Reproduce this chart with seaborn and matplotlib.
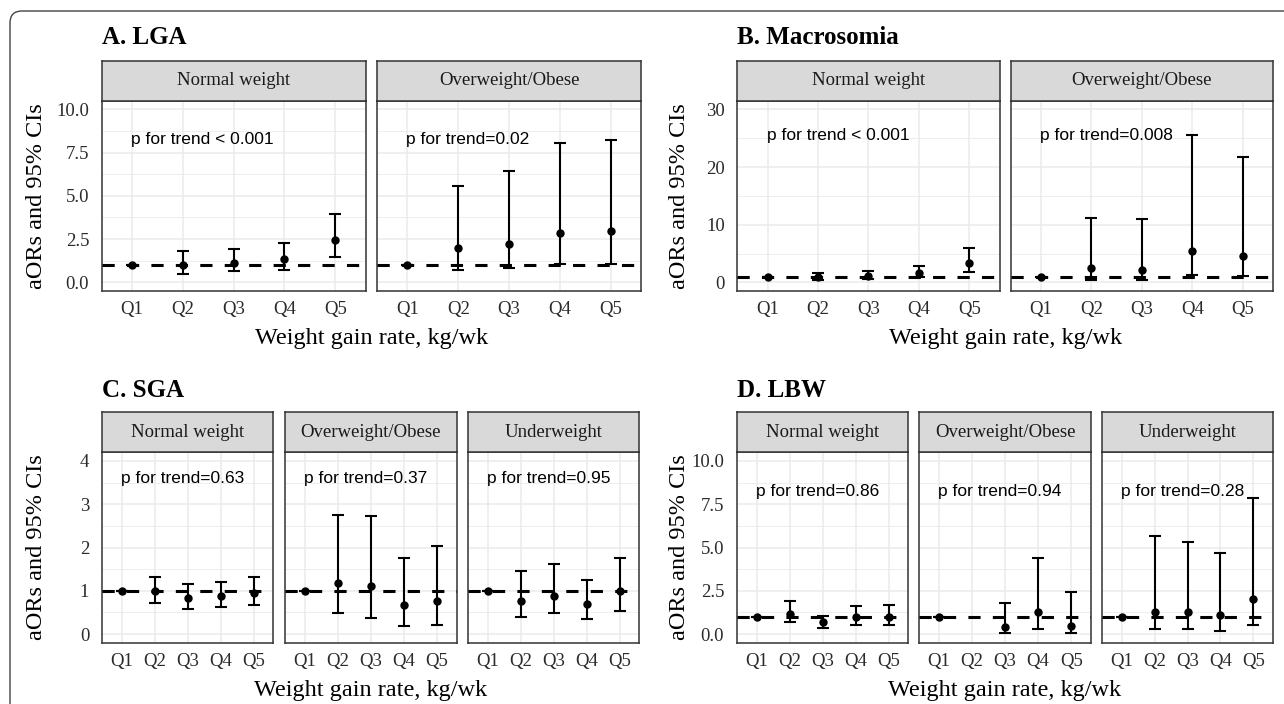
import matplotlib
matplotlib.use("Agg")
import matplotlib.pyplot as plt
from matplotlib.patches import FancyBboxPatch
import numpy as np
import pandas as pd
import seaborn as sns

QUINTILES = ["Q1", "Q2", "Q3", "Q4", "Q5"]

# A. LGA
LGA_NORMAL_OR = [1.00, 1.02, 1.13, 1.33, 2.44]
LGA_NORMAL_LO = [1.00, 0.50, 0.63, 0.72, 1.45]
LGA_NORMAL_HI = [1.00, 1.82, 1.90, 2.28, 3.97]
LGA_OVER_OR = [1.00, 1.96, 2.23, 2.88, 2.97]
LGA_OVER_LO = [1.00, 0.72, 0.82, 1.04, 1.06]
LGA_OVER_HI = [1.00, 5.56, 6.44, 8.03, 8.22]

# B. Macrosomia
MAC_NORMAL_OR = [1.00, 0.95, 1.10, 1.63, 3.30]
MAC_NORMAL_LO = [1.00, 0.40, 0.55, 0.89, 1.75]
MAC_NORMAL_HI = [1.00, 1.55, 2.05, 2.84, 5.90]
MAC_OVER_OR = [1.00, 2.44, 2.15, 5.48, 4.62]
MAC_OVER_LO = [1.00, 0.40, 0.40, 1.34, 1.11]
MAC_OVER_HI = [1.00, 11.1, 10.9, 25.6, 21.7]

# C. SGA
SGA_NORMAL_OR = [1.00, 1.00, 0.83, 0.88, 0.96]
SGA_NORMAL_LO = [1.00, 0.71, 0.59, 0.63, 0.67]
SGA_NORMAL_HI = [1.00, 1.31, 1.16, 1.20, 1.31]
SGA_OVER_OR = [1.00, 1.18, 1.10, 0.66, 0.77]
SGA_OVER_LO = [1.00, 0.49, 0.37, 0.18, 0.22]
SGA_OVER_HI = [1.00, 2.76, 2.73, 1.75, 2.03]
SGA_UNDER_OR = [1.00, 0.77, 0.87, 0.69, 0.99]
SGA_UNDER_LO = [1.00, 0.40, 0.49, 0.34, 0.53]
SGA_UNDER_HI = [1.00, 1.46, 1.61, 1.24, 1.76]

# D. LBW (no estimate for Q2 in overweight/obese)
LBW_NORMAL_OR = [1.00, 1.16, 0.68, 0.97, 0.97]
LBW_NORMAL_LO = [1.00, 0.68, 0.35, 0.54, 0.54]
LBW_NORMAL_HI = [1.00, 1.89, 1.06, 1.60, 1.68]
LBW_OVER_OR = [1.00, np.nan, 0.42, 1.29, 0.48]
LBW_OVER_LO = [1.00, np.nan, 0.04, 0.29, 0.08]
LBW_OVER_HI = [1.00, np.nan, 1.80, 4.40, 2.45]
LBW_UNDER_OR = [1.00, 1.29, 1.29, 1.10, 2.01]
LBW_UNDER_LO = [1.00, 0.29, 0.29, 0.19, 0.54]
LBW_UNDER_HI = [1.00, 5.66, 5.31, 4.69, 7.86]

PANEL_TITLES = ["A. LGA", "B. Macrosomia", "C. SGA", "D. LBW"]
FACETS_2 = ["Normal weight", "Overweight/Obese"]
FACETS_3 = ["Normal weight", "Overweight/Obese", "Underweight"]
P_TREND = {
    "A. LGA": ["p for trend < 0.001", "p for trend=0.02"],
    "B. Macrosomia": ["p for trend < 0.001", "p for trend=0.008"],
    "C. SGA": ["p for trend=0.63", "p for trend=0.37", "p for trend=0.95"],
    "D. LBW": ["p for trend=0.86", "p for trend=0.94", "p for trend=0.28"],
}


def facet_frame(panel, facet, ors, los, his):
    return pd.DataFrame({"panel": panel, "facet": facet, "quintile": QUINTILES,
                         "aor": ors, "lo": los, "hi": his})


df = pd.concat([
    facet_frame("A. LGA", "Normal weight", LGA_NORMAL_OR, LGA_NORMAL_LO, LGA_NORMAL_HI),
    facet_frame("A. LGA", "Overweight/Obese", LGA_OVER_OR, LGA_OVER_LO, LGA_OVER_HI),
    facet_frame("B. Macrosomia", "Normal weight", MAC_NORMAL_OR, MAC_NORMAL_LO, MAC_NORMAL_HI),
    facet_frame("B. Macrosomia", "Overweight/Obese", MAC_OVER_OR, MAC_OVER_LO, MAC_OVER_HI),
    facet_frame("C. SGA", "Normal weight", SGA_NORMAL_OR, SGA_NORMAL_LO, SGA_NORMAL_HI),
    facet_frame("C. SGA", "Overweight/Obese", SGA_OVER_OR, SGA_OVER_LO, SGA_OVER_HI),
    facet_frame("C. SGA", "Underweight", SGA_UNDER_OR, SGA_UNDER_LO, SGA_UNDER_HI),
    facet_frame("D. LBW", "Normal weight", LBW_NORMAL_OR, LBW_NORMAL_LO, LBW_NORMAL_HI),
    facet_frame("D. LBW", "Overweight/Obese", LBW_OVER_OR, LBW_OVER_LO, LBW_OVER_HI),
    facet_frame("D. LBW", "Underweight", LBW_UNDER_OR, LBW_UNDER_LO, LBW_UNDER_HI),
], ignore_index=True)

# layout in pixels (y from top)
W, H = 1284, 704
ROWS = {"top": (60.5, 100.7, 291.0, 44.0), "bottom": (412.3, 452.3, 642.7, 397.0)}
LAYOUT = {
    "A. LGA": ("top", [(101.7, 365.7), (377.0, 641.0)], 37),
    "B. Macrosomia": ("top", [(737.3, 999.6), (1010.6, 1273.0)], 680),
    "C. SGA": ("bottom", [(101.7, 273.3), (285.0, 456.5), (467.7, 639.4)], 37),
    "D. LBW": ("bottom", [(736.7, 908.3), (919.3, 1091.0), (1102.0, 1273.0)], 680),
}
YAXIS = {
    "A. LGA": ((-0.5, 10.5), np.arange(0, 10.1, 2.5), "{:.1f}", 8.25),
    "B. Macrosomia": ((-1.5, 31.5), np.arange(0, 31, 10), "{:.0f}", 25.5),
    "C. SGA": ((-0.2, 4.2), np.arange(0, 4.1, 1), "{:.0f}", 3.6),
    "D. LBW": ((-0.5, 10.5), np.arange(0, 10.1, 2.5), "{:.1f}", 8.25),
}

sns.set_theme(style="white")
plt.rcParams["font.family"] = ["Liberation Serif", "DejaVu Serif"]
BORDER = "#333333"
GRID = "#EBEBEB"


def rect(x0, x1, ytop, ybot):
    return [x0 / W, 1 - ybot / H, (x1 - x0) / W, (ybot - ytop) / H]


fig = plt.figure(figsize=(W / 100, H / 100), dpi=100)
fig.add_artist(FancyBboxPatch((10, -30), 1320, 723, boxstyle="round,pad=0,rounding_size=12",
                              transform=None, facecolor="none", edgecolor="#444444", lw=1.0))

for title in PANEL_TITLES:
    row, edges, ylab_x = LAYOUT[title]
    strip_top, ax_top, ax_bot, title_y = ROWS[row]
    ylim, yticks, yfmt, p_y = YAXIS[title]
    facets = FACETS_2 if len(edges) == 2 else FACETS_3
    step = yticks[1] - yticks[0]
    minor = np.arange(yticks[0] - step / 2, yticks[-1] + step, step)

    for i, (facet, (x0, x1)) in enumerate(zip(facets, edges)):
        ax = fig.add_axes(rect(x0, x1, ax_top, ax_bot))
        sub = df[(df["panel"] == title) & (df["facet"] == facet)]
        ok = sub.dropna()
        pos = ok["quintile"].map(QUINTILES.index)
        ax.errorbar(pos, ok["aor"], yerr=[ok["aor"] - ok["lo"], ok["hi"] - ok["aor"]],
                    fmt="none", ecolor="black", elinewidth=1.5, capsize=4.5, capthick=1.5, zorder=3)
        sns.pointplot(data=sub, x="quintile", y="aor", order=QUINTILES, linestyle="none",
                      errorbar=None, color="black", markersize=4, ax=ax, zorder=4)
        ax.axhline(1, color="black", lw=2.2, linestyle=(0, (4, 4)), zorder=5)
        ax.text(-0.02, p_y, P_TREND[title][i], ha="left", va="center", fontsize=12.5,
                family=["Liberation Sans", "DejaVu Sans"], color="black")

        ax.set_xlim(-0.6, 4.6)
        ax.set_ylim(*ylim)
        ax.set_yticks(yticks)
        ax.set_yticks(minor[(minor > ylim[0]) & (minor < ylim[1])], minor=True)
        ax.set_yticklabels([yfmt.format(v) for v in yticks])
        ax.set_xlabel("")
        ax.set_ylabel("")
        ax.grid(which="major", color=GRID, lw=1.1)
        ax.grid(which="minor", axis="y", color=GRID, lw=0.6)
        ax.set_axisbelow(True)
        ax.tick_params(axis="both", which="major", length=5, width=1.0, color=BORDER,
                       labelsize=13.5, labelcolor="#2b2b2b", pad=2.5)
        ax.tick_params(axis="y", which="minor", length=0)
        ax.tick_params(axis="y", pad=4)
        if i > 0:
            ax.tick_params(axis="y", which="major", length=0, labelleft=False)
        for sp in ax.spines.values():
            sp.set_color(BORDER)
            sp.set_linewidth(1.1)
            sp.set_visible(True)

        sax = fig.add_axes(rect(x0, x1, strip_top, ax_top))
        sax.set_facecolor("#D9D9D9")
        sax.set_xticks([])
        sax.set_yticks([])
        for sp in sax.spines.values():
            sp.set_color(BORDER)
            sp.set_linewidth(1.1)
        sax.text(0.5, 0.5, facet, ha="center", va="center", fontsize=13.5,
                 color="#1a1a1a", transform=sax.transAxes)

    left, right = edges[0][0], edges[-1][1]
    fig.text(left / W, 1 - title_y / H, title, ha="left", va="baseline",
             fontsize=18, fontweight="bold", color="black")
    fig.text(ylab_x / W, 1 - (ax_top + ax_bot) / 2 / H, "aORs and 95% CIs", rotation=90,
             ha="center", va="center", fontsize=17.5, color="black")
    fig.text((left + right) / 2 / W, 1 - (ax_bot + 53.3) / H, "Weight gain rate, kg/wk",
             ha="center", va="baseline", fontsize=17.5, color="black")

fig.savefig("out.png", dpi=100)
